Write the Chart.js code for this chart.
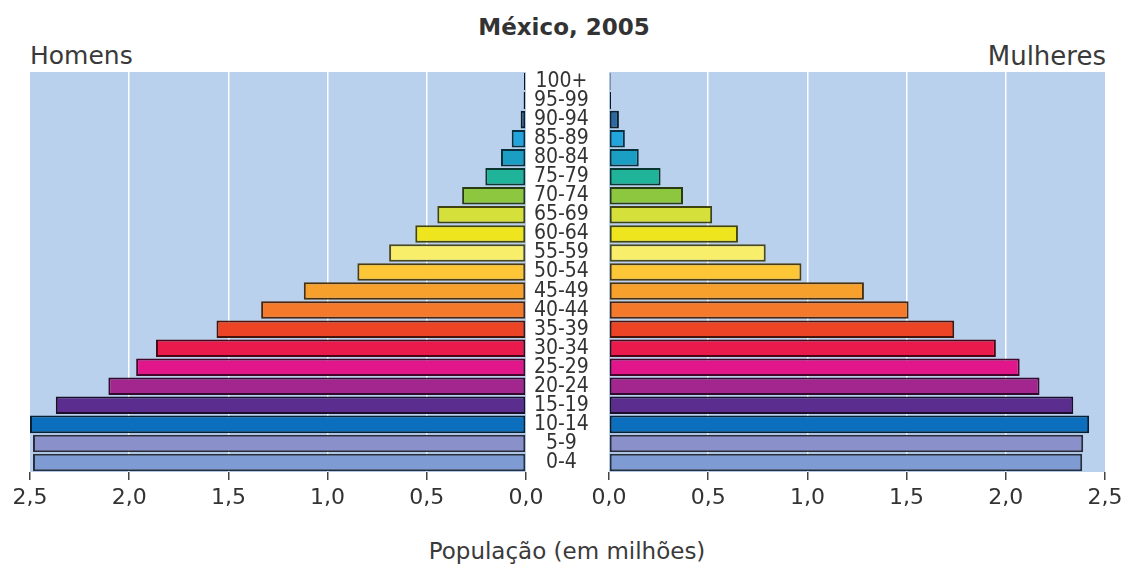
<!DOCTYPE html>
<html>
<head>
<meta charset="utf-8">
<script src="https://cdn.jsdelivr.net/npm/chart.js@4/dist/chart.umd.min.js"></script>
<style>
	body { margin: 0; background: #fff; width: 1128px; height: 570px; overflow: hidden; position: relative; font-family: "DejaVu Sans", sans-serif; color: #333; }
	.box { position: absolute; top: 0; height: 520px; }
	.txt { position: absolute; white-space: nowrap; }
</style>
</head>
<body>
<div class="txt" style="left:0;width:1128px;top:14px;text-align:center;font-weight:bold;font-size:23px;">México, 2005</div>
<div class="txt" style="left:30px;top:41px;font-size:25px;color:#3a3a3a;">Homens</div>
<div class="txt" style="right:22px;top:41px;font-size:26px;color:#3a3a3a;">Mulheres</div>
<div class="txt" style="left:0;width:1134px;top:538px;text-align:center;font-size:23px;color:#3a3a3a;">População (em milhões)</div>

<div class="box" style="left:0;width:609px;"><canvas id="left"></canvas></div>
<div class="box" style="left:539px;width:589px;"><canvas id="right"></canvas></div>

<script>
window.addEventListener('load', () => {
	const AGES = ['0-4', '5-9', '10-14', '15-19', '20-24', '25-29', '30-34', '35-39', '40-44', '45-49',
		'50-54', '55-59', '60-64', '65-69', '70-74', '75-79', '80-84', '85-89', '90-94', '95-99', '100+'];

	// milhões de pessoas
	const HOMENS = [2.485, 2.485, 2.50, 2.37, 2.105, 1.965, 1.865, 1.56, 1.335, 1.12,
		0.85, 0.69, 0.558, 0.447, 0.322, 0.205, 0.126, 0.072, 0.027, 0.012, 0.01];
	const MULHERES = [2.385, 2.39, 2.42, 2.34, 2.17, 2.07, 1.95, 1.74, 1.51, 1.285,
		0.97, 0.79, 0.65, 0.52, 0.373, 0.26, 0.15, 0.08, 0.05, 0.01, 0.008];

	const X_TICKS = [0, 0.5, 1, 1.5, 2, 2.5];

	const COLORS = ['#7f9bd3', '#8a90c9', '#0b6fbd', '#5b2d8f', '#a3268e', '#e0168a', '#ea1a4c',
		'#ee4426', '#f4792a', '#f7a02c', '#fdc636', '#f9ee6a', '#eee51e', '#d5e03a', '#8dc63f',
		'#1fb39a', '#1a9ec4', '#22a4dc', '#2a6aa0', '#1c3f70', '#1c3f70'];

	//Тёмный контур для каждого цвета
	function darker(hex) {
		let n = parseInt(hex.slice(1), 16);
		let r = Math.round(((n >> 16) & 255) * 0.3);
		let g = Math.round(((n >> 8) & 255) * 0.3);
		let b = Math.round((n & 255) * 0.3);
		return 'rgb(' + r + ',' + g + ',' + b + ')';
	}

	const plotBackground = {
		id: 'plotBackground',
		beforeDraw(chart) {
			let a = chart.chartArea;
			let ctx = chart.ctx;
			ctx.save();
			ctx.fillStyle = '#b9d1ed';
			ctx.fillRect(a.left, a.top, a.right - a.left, a.bottom - a.top);
			ctx.restore();
		}
	};

	function makeChart(canvas, values, isLeft) {
		return new Chart(canvas, {
			type: 'bar',
			data: {
				labels: AGES,
				datasets: [{
					data: values,
					backgroundColor: COLORS,
					borderColor: COLORS.map(darker),
					borderWidth: 2,
					borderSkipped: false,
					barPercentage: 0.92,
					categoryPercentage: 1
				}]
			},
			options: {
				indexAxis: 'y',
				responsive: true,
				maintainAspectRatio: false,
				animation: false,
				layout: {
					padding: isLeft ? { left: 30, right: 0, top: 72, bottom: 0 } : { left: 70, right: 23, top: 72, bottom: 0 }
				},
				plugins: { legend: { display: false }, tooltip: { enabled: false } },
				scales: {
					x: {
						type: 'linear',
						reverse: isLeft,
						min: 0,
						max: 2.5,
						afterBuildTicks: (axis) => { axis.ticks = X_TICKS.map((v) => ({ value: v })); },
						afterFit: (axis) => { axis.height = 48; },
						border: { display: false },
						grid: {
							color: (c) => (c.tick && c.tick.value > 0 && c.tick.value < 2.5) ? '#ffffff' : 'rgba(0,0,0,0)',
							lineWidth: 1.5,
							tickColor: '#444',
							tickLength: 8,
							drawTicks: true
						},
						ticks: {
							padding: 5,
							color: '#333',
							font: { family: 'DejaVu Sans', size: 22 },
							callback: (v) => v.toFixed(1).replace('.', ',')
						}
					},
					y: {
						reverse: true,
						position: 'right',
						display: isLeft,
						afterFit: (axis) => { if (isLeft) axis.width = 83; },
						border: { display: false },
						grid: { display: false },
						ticks: {
							autoSkip: false,
							crossAlign: 'center',
							padding: 0,
							color: '#333',
							font: { family: '"DejaVu Sans Condensed", "DejaVu Sans"', size: 21, lineHeight: 1 }
						}
					}
				}
			},
			plugins: [plotBackground]
		});
	}

	makeChart(document.getElementById('left'), HOMENS, true);
	makeChart(document.getElementById('right'), MULHERES, false);
}, { once: true });
</script>
</body>
</html>
